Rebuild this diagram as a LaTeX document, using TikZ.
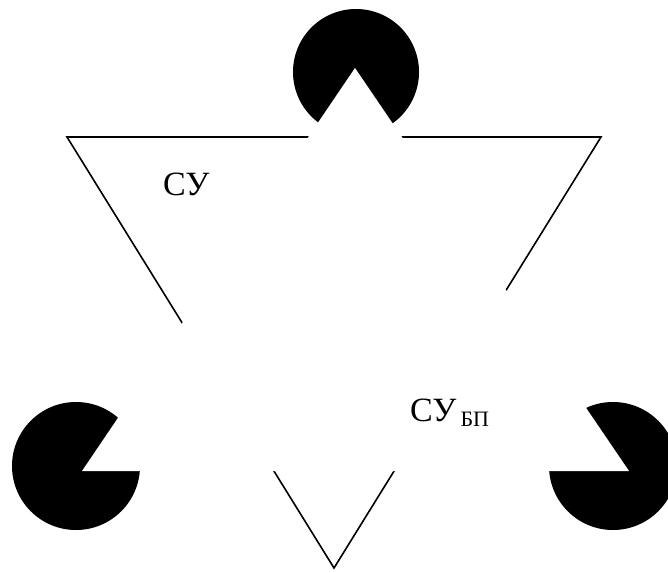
\documentclass[tikz,border=0pt]{standalone}
\usepackage{fontspec}
\setmainfont{Liberation Serif}
\usepackage{tikz}
\usetikzlibrary{calc}

\begin{document}
\begin{tikzpicture}[
  x=1pt, y=1pt,
  edge/.style={line width=1.6pt},
  disc/.style={fill=black},
  cover/.style={fill=white},
  label/.style={inner sep=0pt, anchor=base west, font=\fontsize{34}{40}\selectfont},
]
\useasboundingbox (0,0) rectangle (668,-572);
\clip (0,0) rectangle (668,-572);

% Outline triangle
\coordinate (A) at (67,-137);
\coordinate (B) at (601,-137);
\coordinate (C) at (334,-568);
\draw[edge] (A) -- (B) -- (C) -- cycle;

% Discs
\fill[disc] (356,-72) circle[radius=63];
\fill[disc] (76,-466) circle[radius=64];
\fill[disc] (613,-466) circle[radius=64];

% Illusory triangle
\coordinate (T) at (355,-68);
\coordinate (L) at (82,-471);
\coordinate (R) at (629,-471);
\fill[cover] (T) -- (L) -- (R) -- cycle;

% Labels
\node[label] (su) at (163,-195) {СУ};
\node[label] (subp) at (410,-421) {СУ\hspace{4pt}{\fontsize{22}{22}\selectfont\raisebox{-5pt}{БП}}};

\end{tikzpicture}
\end{document}
